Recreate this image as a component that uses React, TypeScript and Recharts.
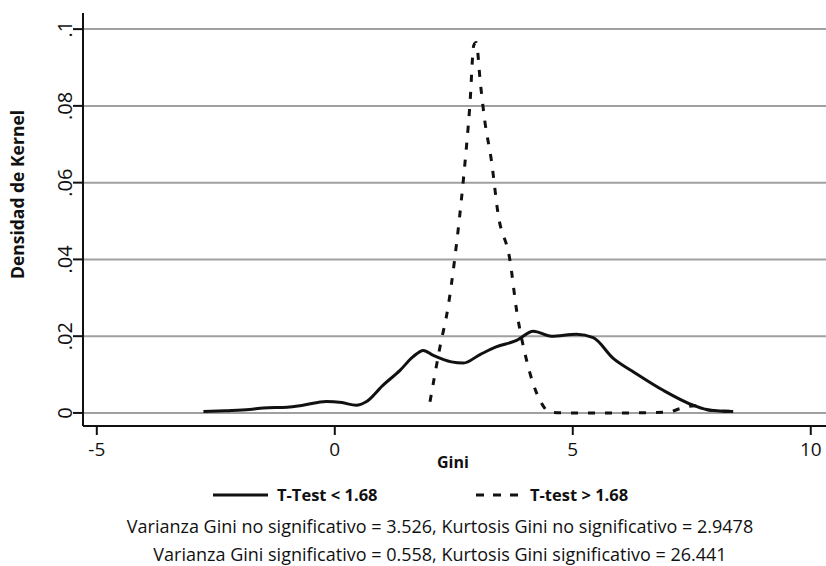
import { LineChart, Line, XAxis, YAxis, CartesianGrid } from 'recharts';

// Kernel density, T-Test < 1.68 (solid)
const solidGini = [-2.76, -2.3, -1.79, -1.5, -1.0, -0.67, -0.18, 0.15, 0.45, 0.66, 1.01, 1.37, 1.64, 1.86, 2.07, 2.45, 2.7, 3.05, 3.39, 3.82, 4.17, 4.55, 5.08, 5.43, 5.85, 6.3, 6.9, 7.53, 7.88, 8.37];
const solidDens = [0.0004, 0.0006, 0.0009, 0.0013, 0.0015, 0.002, 0.003, 0.0027, 0.002, 0.0029, 0.0072, 0.0111, 0.0146, 0.0163, 0.015, 0.0133, 0.013, 0.0152, 0.0172, 0.0189, 0.0213, 0.02, 0.0205, 0.0196, 0.0142, 0.0105, 0.0059, 0.002, 0.0007, 0.0004];

// Kernel density, T-test > 1.68 (dashed)
const dashedGini = [2.0, 2.21, 2.38, 2.52, 2.7, 2.84, 2.92, 2.97, 3.06, 3.15, 3.29, 3.43, 3.68, 3.82, 4.03, 4.31, 4.52, 5.0, 6.0, 7.0, 7.25, 7.55, 7.85, 8.1, 8.4];
const dashedDens = [0.0029, 0.0172, 0.0276, 0.0402, 0.0606, 0.0806, 0.0958, 0.0965, 0.0858, 0.0762, 0.0658, 0.0519, 0.0398, 0.0267, 0.0137, 0.0033, 0.0002, 0, 0, 0.0002, 0.0011, 0.0019, 0.0008, 0.0005, 0.0004];

const xTicks = [-5, 0, 5, 10];
const yTicks = [0, 0.02, 0.04, 0.06, 0.08, 0.1];
const yTickLabels = ['0', '.02', '.04', '.06', '.08', '.1'];

const legendNames = ['T-Test < 1.68', 'T-test > 1.68'];

const notes = [
  'Varianza Gini no significativo = 3.526, Kurtosis Gini no significativo = 2.9478',
  'Varianza Gini significativo = 0.558, Kurtosis Gini significativo = 26.441',
];

const solidData = solidGini.map((g, i) => ({ gini: g, dens: solidDens[i] }));
const dashedData = dashedGini.map((g, i) => ({ gini: g, dens: dashedDens[i] }));

const FONT = '"Open Sans", sans-serif';

const YTick = (props: any) => {
  const { x, y, payload } = props;
  const idx = yTicks.indexOf(payload.value);
  return (
    <text
      x={x + 1}
      y={y}
      transform={`rotate(-90, ${x + 1}, ${y})`}
      textAnchor="middle"
      fontSize={20}
      fontFamily={FONT}
      fill="#111"
    >
      {idx >= 0 ? yTickLabels[idx] : payload.value}
    </text>
  );
};

export default function App() {
  return (
    <div style={{ position: 'absolute', left: 0, top: 0, width: 826, height: 566, background: '#fff' }}>
      <LineChart width={826} height={566} data={solidData} margin={{ top: 13, right: 0, left: 0, bottom: 90 }}>
        <CartesianGrid vertical={false} stroke="#a0a0a0" strokeWidth={2} horizontalValues={yTicks} />
        <XAxis
          dataKey="gini"
          type="number"
          domain={[-5.29, 10.32]}
          ticks={xTicks}
          allowDataOverflow
          height={50}
          stroke="#111"
          strokeWidth={2}
          tickSize={9}
          tick={{ fontSize: 19, fontFamily: FONT, fill: '#111', dy: 6 }}
          label={{ value: 'Gini', position: 'insideTopLeft', dx: 349, dy: 26, fontSize: 16, fontWeight: 'bold', fontFamily: FONT, fill: '#111' }}
        />
        <YAxis
          type="number"
          domain={[-0.0034, 0.1042]}
          ticks={yTicks}
          allowDataOverflow
          width={83}
          stroke="#111"
          strokeWidth={2}
          tickSize={10}
          tick={<YTick />}
          label={{ value: 'Densidad de Kernel', angle: -90, position: 'insideLeft', dx: 13, dy: -25, fontSize: 17.5, fontWeight: 'bold', fontFamily: FONT, fill: '#111', style: { textAnchor: 'middle' } }}
        />
        <Line data={solidData} dataKey="dens" type="monotone" stroke="#111" strokeWidth={3} dot={false} isAnimationActive={false} />
        <Line data={dashedData} dataKey="dens" type="monotone" stroke="#111" strokeWidth={3} strokeDasharray="7 10" dot={false} isAnimationActive={false} />
      </LineChart>
      <svg width={826} height={30} style={{ position: 'absolute', left: 0, top: 480 }}>
        <line x1={213} y1={15} x2={268} y2={15} stroke="#111" strokeWidth={3} />
        <text x={277} y={21} fontSize={16.5} fontWeight="bold" fontFamily={FONT} fill="#111">
          {legendNames[0]}
        </text>
        <line x1={476} y1={15} x2={518} y2={15} stroke="#111" strokeWidth={3} strokeDasharray="8 9" />
        <text x={530} y={21} fontSize={16.5} fontWeight="bold" fontFamily={FONT} fill="#111">
          {legendNames[1]}
        </text>
      </svg>
      {notes.map((n, i) => (
        <div
          key={i}
          style={{
            position: 'absolute',
            left: 0,
            width: 880,
            top: 514 + i * 28,
            textAlign: 'center',
            fontFamily: FONT,
            fontSize: 18,
            color: '#111',
            whiteSpace: 'nowrap',
          }}
        >
          {n}
        </div>
      ))}
    </div>
  );
}
